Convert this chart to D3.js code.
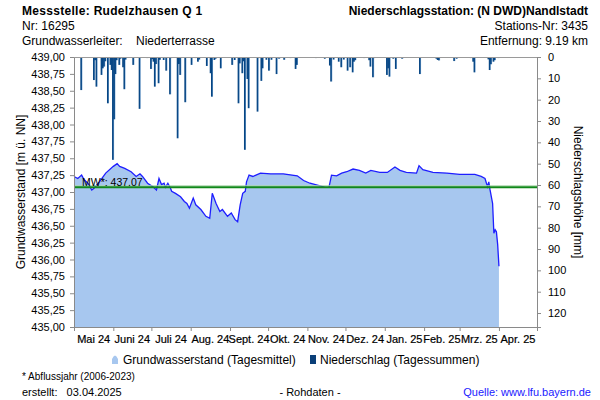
<!DOCTYPE html>
<meta charset="utf-8">
<style>
body { margin: 0; background: #fff; }
svg text { font-family: "Liberation Sans", Arial, sans-serif; fill: #000; }
</style>
<body>
<div class="chart"></div>
</body>
<script src="https://d3js.org/d3.v7.min.js"></script>
<script>
// Grundwasserstand (Tagesmittel)
const gwDates = ["2024-05-01","2024-05-04","2024-05-07","2024-05-09","2024-05-12","2024-05-15","2024-05-17","2024-05-21","2024-05-26",
  "2024-06-01","2024-06-04","2024-06-06","2024-06-10","2024-06-15","2024-06-19","2024-06-22","2024-06-24","2024-06-28",
  "2024-07-02","2024-07-05","2024-07-07","2024-07-09","2024-07-11","2024-07-12","2024-07-14","2024-07-16","2024-07-17","2024-07-20","2024-07-24","2024-07-27","2024-07-29","2024-07-31",
  "2024-08-03","2024-08-05","2024-08-09","2024-08-13","2024-08-16","2024-08-18","2024-08-21","2024-08-24","2024-08-26","2024-08-30",
  "2024-09-02","2024-09-05","2024-09-07","2024-09-09","2024-09-11","2024-09-13","2024-09-14","2024-09-16","2024-09-19","2024-09-25",
  "2024-10-03","2024-10-13","2024-10-24","2024-10-29",
  "2024-11-03","2024-11-11","2024-11-15","2024-11-18","2024-11-20","2024-11-24","2024-11-28",
  "2024-12-02","2024-12-07","2024-12-12","2024-12-17","2024-12-21","2024-12-28",
  "2025-01-03","2025-01-09","2025-01-13","2025-01-18","2025-01-26","2025-01-28","2025-01-31",
  "2025-02-08","2025-02-19","2025-03-01","2025-03-13","2025-03-18","2025-03-21","2025-03-23","2025-03-24","2025-03-25",
  "2025-03-27","2025-03-28","2025-03-29","2025-03-30","2025-03-31","2025-04-01"];
const gwValues = [437.23,437.20,437.25,437.18,437.13,437.03,437.06,437.15,437.28,
  437.38,437.42,437.38,437.35,437.30,437.23,437.27,437.23,437.13,
  437.08,437.03,437.20,437.11,437.13,437.07,437.13,437.06,437.01,436.98,436.93,436.86,436.83,436.76,
  436.91,436.81,436.74,436.64,436.61,436.98,436.83,436.71,436.74,436.64,
  436.69,436.59,436.56,436.81,436.98,437.01,437.15,437.25,437.23,437.28,
  437.27,437.27,437.24,437.17,
  437.13,437.09,437.07,437.07,437.25,437.24,437.28,
  437.30,437.34,437.32,437.28,437.32,437.29,
  437.29,437.37,437.32,437.29,437.28,437.39,437.33,
  437.29,437.28,437.26,437.26,437.23,437.20,437.08,437.15,437.03,
  436.83,436.39,436.44,436.41,436.22,435.90];

// Niederschlag (Tagessummen) in mm
const rainDates = ["2024-05-06","2024-05-16","2024-05-17","2024-05-18","2024-05-22","2024-05-23","2024-05-24","2024-05-25","2024-05-27","2024-05-29","2024-05-30","2024-05-31",
  "2024-06-01","2024-06-02","2024-06-03","2024-06-05","2024-06-06","2024-06-08","2024-06-09","2024-06-10","2024-06-16","2024-06-21","2024-06-27","2024-06-30",
  "2024-07-01","2024-07-02","2024-07-03","2024-07-04","2024-07-06","2024-07-07","2024-07-10","2024-07-12","2024-07-15","2024-07-16","2024-07-21","2024-07-22","2024-07-23","2024-07-27",
  "2024-08-01","2024-08-04","2024-08-06","2024-08-07","2024-08-13","2024-08-16","2024-08-17","2024-08-19","2024-08-20","2024-08-24",
  "2024-09-02","2024-09-04","2024-09-07","2024-09-08","2024-09-10","2024-09-11","2024-09-12","2024-09-14","2024-09-15","2024-09-22","2024-09-23","2024-09-25","2024-09-26","2024-09-29",
  "2024-10-01","2024-10-03","2024-10-07","2024-10-09","2024-10-13","2024-10-18","2024-10-22","2024-10-23",
  "2024-11-07","2024-11-14","2024-11-18","2024-11-19","2024-11-21","2024-11-25","2024-11-27","2024-11-29",
  "2024-12-02","2024-12-04","2024-12-06","2024-12-07","2024-12-08","2024-12-15","2024-12-19","2024-12-20","2024-12-22","2024-12-23",
  "2025-01-02","2025-01-03","2025-01-04","2025-01-07","2025-01-09","2025-01-14","2025-01-28",
  "2025-02-10","2025-02-11","2025-02-12","2025-02-15","2025-02-24","2025-02-26",
  "2025-03-09","2025-03-11","2025-03-12","2025-03-23","2025-03-24","2025-03-25","2025-03-27","2025-03-28","2025-03-31"];
const rainValues = [15.5,10.8,1.5,13.9,8.4,5.3,4.5,2.0,21.7,3.7,6.1,48.2,
  29.2,8.0,1.5,3.7,0.8,4.8,15.1,1.2,3.7,24.3,0.5,5.6,
  1.0,2.2,13.9,3.3,12.3,1.3,1.4,6.4,17.5,0.5,38.1,3.3,8.4,21.2,
  3.7,0.5,2.2,1.2,4.2,7.6,18.6,1.4,0.8,5.3,
  3.7,1.4,21.7,3.0,7.6,2.0,43.5,10.3,24.0,25.6,0.5,11.2,5.3,1.3,
  6.4,1.3,8.0,0.8,1.3,0.5,5.6,3.7,
  0.5,0.8,4.0,11.5,1.2,2.2,4.8,1.2,
  6.4,4.8,7.2,2.2,1.5,0.5,1.5,4.5,9.5,0.5,
  8.4,5.3,9.2,0.8,5.6,0.8,8.0,
  0.8,1.4,1.6,0.3,1.9,0.8,
  0.5,2.2,7.2,1.1,6.1,3.4,2.2,1.5,0.5];

const meanValue = 437.07;
const monthLabels = ["Mai 24","Juni 24","Juli 24","Aug. 24","Sept. 24","Okt. 24","Nov. 24","Dez. 24","Jan. 25","Feb. 25","Mrz. 25","Apr. 25"];
const leftTicks = d3.range(435, 439.001, 0.25);
const rightTicks = d3.range(0, 121, 10);

const width = 600, height = 400;
const margin = {left: 74, right: 537, top: 57, bottom: 327};
const parse = d3.utcParse("%Y-%m-%d");

const x = d3.scaleUtc()
  .domain([Date.UTC(2024, 4, 1), Date.UTC(2025, 4, 1)])
  .range([margin.left, margin.right]);
const y = d3.scaleLinear().domain([435, 439]).range([margin.bottom, margin.top]);
const yRain = d3.scaleLinear().domain([0, 126.55]).range([margin.top, margin.bottom]);

const svg = d3.select(".chart").append("svg")
  .attr("width", width).attr("height", height);

// bar gradient (light edge, dark core)
const grad = svg.append("defs").append("linearGradient").attr("id", "barGrad")
  .attr("x1", "0").attr("x2", "1").attr("y1", "0").attr("y2", "0");
grad.append("stop").attr("offset", "0%").attr("stop-color", "#003f7d");
grad.append("stop").attr("offset", "55%").attr("stop-color", "#0d4c8a");
grad.append("stop").attr("offset", "100%").attr("stop-color", "#7ea9d4");

// header
const head = svg.append("g").style("font-size", "12px");
head.append("text").attr("x", 22).attr("y", 15).style("font-weight", "bold").style("letter-spacing", "0.3px")
  .text("Messstelle: Rudelzhausen Q 1");
head.append("text").attr("x", 22).attr("y", 30).text("Nr: 16295");
head.append("text").attr("x", 22).attr("y", 45).text("Grundwasserleiter:");
head.append("text").attr("x", 136).attr("y", 45).text("Niederterrasse");
head.append("text").attr("x", 588).attr("y", 15).attr("text-anchor", "end").style("font-weight", "bold")
  .text("Niederschlagsstation: (N DWD)Nandlstadt");
head.append("text").attr("x", 588).attr("y", 30).attr("text-anchor", "end").text("Stations-Nr: 3435");
head.append("text").attr("x", 588).attr("y", 45).attr("text-anchor", "end").text("Entfernung: 9.19 km");

// groundwater area + line
const gwData = gwDates.map((d, i) => ({date: parse(d), value: gwValues[i]}));
const area = d3.area().x(d => x(d.date)).y0(y(435)).y1(d => y(d.value));
const line = d3.line().x(d => x(d.date)).y(d => y(d.value));

svg.append("path").datum(gwData).attr("d", area).attr("fill", "#a7c7ef");
svg.append("path").datum(gwData).attr("d", line)
  .attr("fill", "none").attr("stroke", "#1e1eff").attr("stroke-width", 1.3);

// precipitation bars hanging from top
const rainData = rainDates.map((d, i) => ({date: parse(d), value: rainValues[i]}));
svg.append("g").selectAll("rect").data(rainData).enter().append("rect")
  .attr("x", d => x(d.date))
  .attr("y", yRain(0))
  .attr("width", d => (x(d3.utcDay.offset(d.date, 1)) - x(d.date)) * 1.6)
  .attr("height", d => yRain(d.value) - yRain(0))
  .attr("fill", "url(#barGrad)");

// mean line
svg.append("line").attr("x1", margin.left).attr("x2", margin.right)
  .attr("y1", y(meanValue) - 1.5).attr("y2", y(meanValue) - 1.5)
  .attr("stroke", "#a9d6a9").attr("stroke-width", 1);
svg.append("line").attr("x1", margin.left).attr("x2", margin.right)
  .attr("y1", y(meanValue)).attr("y2", y(meanValue))
  .attr("stroke", "#11881a").attr("stroke-width", 2);
svg.append("text").attr("x", 82).attr("y", 186).style("font-size", "10.5px")
  .text("MW*: " + meanValue.toFixed(2));

// axes
const fmt = d3.format(".2f");
const leftAxis = d3.axisLeft(y).tickValues(leftTicks).tickSize(4).tickPadding(5)
  .tickFormat(d => fmt(d).replace(".", ","));
const gl = svg.append("g").attr("transform", `translate(${margin.left},0)`).call(leftAxis);

const rightAxis = d3.axisRight(yRain).tickValues(rightTicks).tickSize(4).tickPadding(7);
const gr = svg.append("g").attr("transform", `translate(${margin.right},0)`).call(rightAxis);

const monthStarts = d3.utcMonth.range(Date.UTC(2024, 4, 1), Date.UTC(2025, 4, 2));
const bottomAxis = d3.axisBottom(x).tickValues(monthStarts).tickSize(4).tickFormat("");
const gb = svg.append("g").attr("transform", `translate(0,${margin.bottom})`).call(bottomAxis);

[gl, gr, gb].forEach(g => {
  g.select(".domain").attr("stroke", "#8a8a8a");
  g.selectAll(".tick line").attr("stroke", "#8a8a8a");
  g.selectAll("text").style("font-size", "11px").style("font-family", "'Liberation Sans', Arial, sans-serif");
});

// top border
svg.append("line").attr("x1", margin.left).attr("x2", margin.right)
  .attr("y1", margin.top + 0.5).attr("y2", margin.top + 0.5).attr("stroke", "#9a9a9a");

// month labels centred on the months
svg.append("g").selectAll("text").data(monthLabels).enter().append("text")
  .attr("x", (d, i) => (x(monthStarts[i]) + x(monthStarts[i + 1])) / 2)
  .attr("y", 343)
  .attr("text-anchor", "middle")
  .style("font-size", "11px")
  .style("stroke", "#000").style("stroke-width", "0.2px")
  .text(d => d);

// axis titles
svg.append("text").attr("transform", "translate(25,192) rotate(-90)")
  .attr("text-anchor", "middle").style("font-size", "12px").text("Grundwasserstand [m ü. NN]");
svg.append("text").attr("transform", "translate(574,192) rotate(90)")
  .attr("text-anchor", "middle").style("font-size", "12px").text("Niederschlagshöhe [mm]");

// legend
const lg = svg.append("g").style("font-size", "12px");
lg.append("path").attr("d", "M112,364 L112,359 Q115,352 118,359 L118,364 Z").attr("fill", "#a7c7ef");
lg.append("text").attr("x", 123).attr("y", 364).text("Grundwasserstand (Tagesmittel)");
lg.append("rect").attr("x", 310).attr("y", 355).attr("width", 6).attr("height", 9).attr("fill", "#0a3f78");
lg.append("text").attr("x", 320).attr("y", 364).text("Niederschlag (Tagessummen)");

// footer
svg.append("text").attr("x", 22).attr("y", 380).style("font-size", "10px").text("* Abflussjahr (2006-2023)");
svg.append("text").attr("x", 22).attr("y", 396).style("font-size", "11px").attr("xml:space", "preserve")
  .text("erstellt:   03.04.2025");
svg.append("text").attr("x", 310).attr("y", 396).attr("text-anchor", "middle").style("font-size", "11px").text("- Rohdaten -");
svg.append("text").attr("x", 591).attr("y", 396).attr("text-anchor", "end").style("font-size", "11px")
  .style("fill", "#1a1aff").text("Quelle: www.lfu.bayern.de");
</script>
